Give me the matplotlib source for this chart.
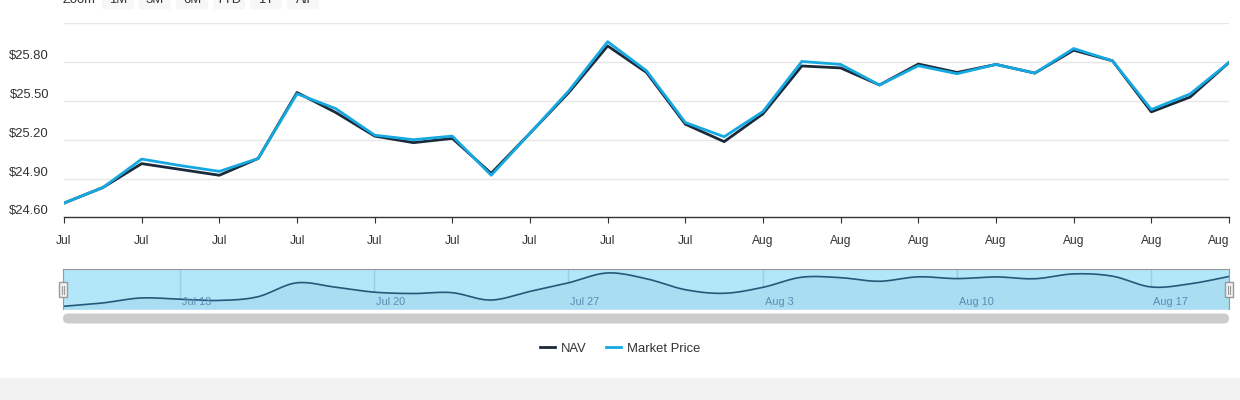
import numpy as np
import matplotlib
matplotlib.use("Agg")
import matplotlib.pyplot as plt
from matplotlib.patches import Rectangle, FancyBboxPatch

plt.rcParams['font.family'] = ['Liberation Sans', 'DejaVu Sans']

# data (one point per trading day, ordinal x axis)
nav = [24.71, 24.83, 25.015, 24.97, 24.925, 25.055, 25.565, 25.41, 25.228, 25.177,
       25.21, 24.94, 25.25, 25.565, 25.925, 25.72, 25.32, 25.185, 25.40, 25.77,
       25.755, 25.623, 25.785, 25.72, 25.782, 25.715, 25.892, 25.81, 25.415, 25.53,
       25.797]
market = [24.71, 24.83, 25.05, 25.0, 24.955, 25.055, 25.555, 25.44, 25.235, 25.20,
          25.228, 24.925, 25.25, 25.578, 25.958, 25.733, 25.333, 25.223, 25.418, 25.805,
          25.782, 25.623, 25.772, 25.71, 25.782, 25.715, 25.905, 25.81, 25.433, 25.554,
          25.797]
x_labels = ['Jul'] * 9 + ['Aug'] * 7
y_ticks = [24.60, 24.90, 25.20, 25.50, 25.80]
nav_ticks = [3, 8, 13, 18, 23, 28]
nav_labels = ['Jul 13', 'Jul 20', 'Jul 27', 'Aug 3', 'Aug 10', 'Aug 17']
buttons = ['1M', '3M', '6M', 'YTD', '1Y', 'All']

W, H = 1240, 400
PT = 0.72  # px -> pt at dpi 100


def rect(x0, y0, x1, y1):
    return [x0 / W, 1 - y1 / H, (x1 - x0) / W, (y1 - y0) / H]


def catmull(xs, ys, n=20):
    xs = np.asarray(xs, float)
    ys = np.asarray(ys, float)
    px = np.concatenate([[xs[0]], xs, [xs[-1]]])
    py = np.concatenate([[ys[0]], ys, [ys[-1]]])
    ox, oy = [], []
    t = np.linspace(0, 1, n, endpoint=False)
    for i in range(1, len(px) - 2):
        for p, out in ((px, ox), (py, oy)):
            p0, p1, p2, p3 = p[i - 1], p[i], p[i + 1], p[i + 2]
            out.extend(0.5 * (2 * p1 + (-p0 + p2) * t
                              + (2 * p0 - 5 * p1 + 4 * p2 - p3) * t ** 2
                              + (-p0 + 3 * p1 - 3 * p2 + p3) * t ** 3))
    ox.append(xs[-1])
    oy.append(ys[-1])
    return np.array(ox), np.array(oy)


x = np.arange(len(nav))
nav_color = '#1b2a3a'
mp_color = '#16a9e1'

fig = plt.figure(figsize=(12.4, 4), dpi=100)

# main chart
ax = fig.add_axes(rect(64, 23.3, 1229, 217.3))
ax.set_xlim(0, len(nav) - 1)
ax.set_ylim(24.6, 26.1)
l1, = ax.plot(x, nav, color=nav_color, lw=2, label='NAV', zorder=3)
l2, = ax.plot(x, market, color=mp_color, lw=2, label='Market Price', zorder=4)
for s in ['top', 'left', 'right']:
    ax.spines[s].set_visible(False)
ax.spines['bottom'].set_color('#333333')
ax.spines['bottom'].set_linewidth(1)
ax.set_yticks([24.9, 25.2, 25.5, 25.8, 26.1])
ax.yaxis.grid(True, color='#e6e6e6', lw=1)
ax.tick_params(axis='y', length=0, labelleft=False)
tick_pos = list(range(0, len(nav), 2))
ax.set_xticks(tick_pos)
ax.tick_params(axis='x', direction='out', length=6 * PT, color='#333333', labelbottom=False)
for i, (p, lab) in enumerate(zip(tick_pos, x_labels)):
    ha = 'right' if i == len(tick_pos) - 1 else 'center'
    ax.annotate(lab, xy=(p, 0), xycoords=('data', 'axes fraction'),
                xytext=(0, -24 * PT), textcoords='offset points',
                ha=ha, va='center', fontsize=12 * PT, color='#333333')
for v in y_ticks:
    ax.annotate('$%.2f' % v, xy=(0, v), xycoords=('axes fraction', 'data'),
                xytext=(-15 * PT, 6 * PT), textcoords='offset points',
                ha='right', va='center', fontsize=13 * PT, color='#333333')

# navigator
nax = fig.add_axes(rect(63, 269.3, 1229, 309.3))
nax.set_xlim(0, len(nav) - 1)
nax.set_ylim(24.603, 26.059)
nax.set_facecolor('#b2e6f8')
sx, sy = catmull(x, nav)
nax.fill_between(sx, sy, 24.603, color='#a8ddf2', lw=0)
nax.plot(sx, sy, color='#24597a', lw=1.2)
for p, lab in zip(nav_ticks, nav_labels):
    nax.axvline(p, color='#95cde3', lw=1, zorder=0.5)
    nax.annotate(lab, xy=(p, 0.18), xycoords=('data', 'axes fraction'),
                 xytext=(2 * PT, 0), textcoords='offset points',
                 ha='left', va='center', fontsize=11 * PT, color='#5b8db4')
nax.set_xticks([])
nax.set_yticks([])
for s in ['top', 'left', 'right']:
    nax.spines[s].set_color('#999999')
nax.spines['bottom'].set_visible(False)

# legend
fig.legend(handles=[l1, l2], loc='center', bbox_to_anchor=(620 / W, 1 - 348.5 / H),
           ncol=2, frameon=False, fontsize=13 * PT, handlelength=1.15,
           handletextpad=0.5, columnspacing=1.45, labelcolor='#333333')

# decorations in pixel space
ov = fig.add_axes([0, 0, 1, 1])
ov.set_xlim(0, W)
ov.set_ylim(H, 0)
ov.axis('off')
ov.patch.set_alpha(0)

ov.add_patch(Rectangle((0, 378), W, 22, color='#f2f2f2', lw=0))
ov.add_patch(FancyBboxPatch((63, 313.5), 1166, 10, boxstyle='round,pad=0,rounding_size=5',
                            color='#cccccc', lw=0))
for hx in (63, 1229):
    ov.add_patch(Rectangle((hx - 4, 282), 8, 15, facecolor='#f2f2f2',
                           edgecolor='#999999', lw=1))
    ov.plot([hx - 1, hx - 1], [285.5, 293.5], color='#999999', lw=0.8)
    ov.plot([hx + 1, hx + 1], [285.5, 293.5], color='#999999', lw=0.8)

# range selector, cut off by the top edge as in the source
ov.text(63, 3, 'Zoom', ha='left', va='baseline', fontsize=13 * PT, color='#333333')
for i, b in enumerate(buttons):
    bx = 102 + i * 37
    ov.add_patch(FancyBboxPatch((bx, -14), 32, 23.3, boxstyle='round,pad=0,rounding_size=2',
                                color='#f7f7f7', lw=0))
    ov.text(bx + 16, 3, b, ha='center', va='baseline', fontsize=13 * PT, color='#333333')

fig.savefig('out.png', dpi=100)
